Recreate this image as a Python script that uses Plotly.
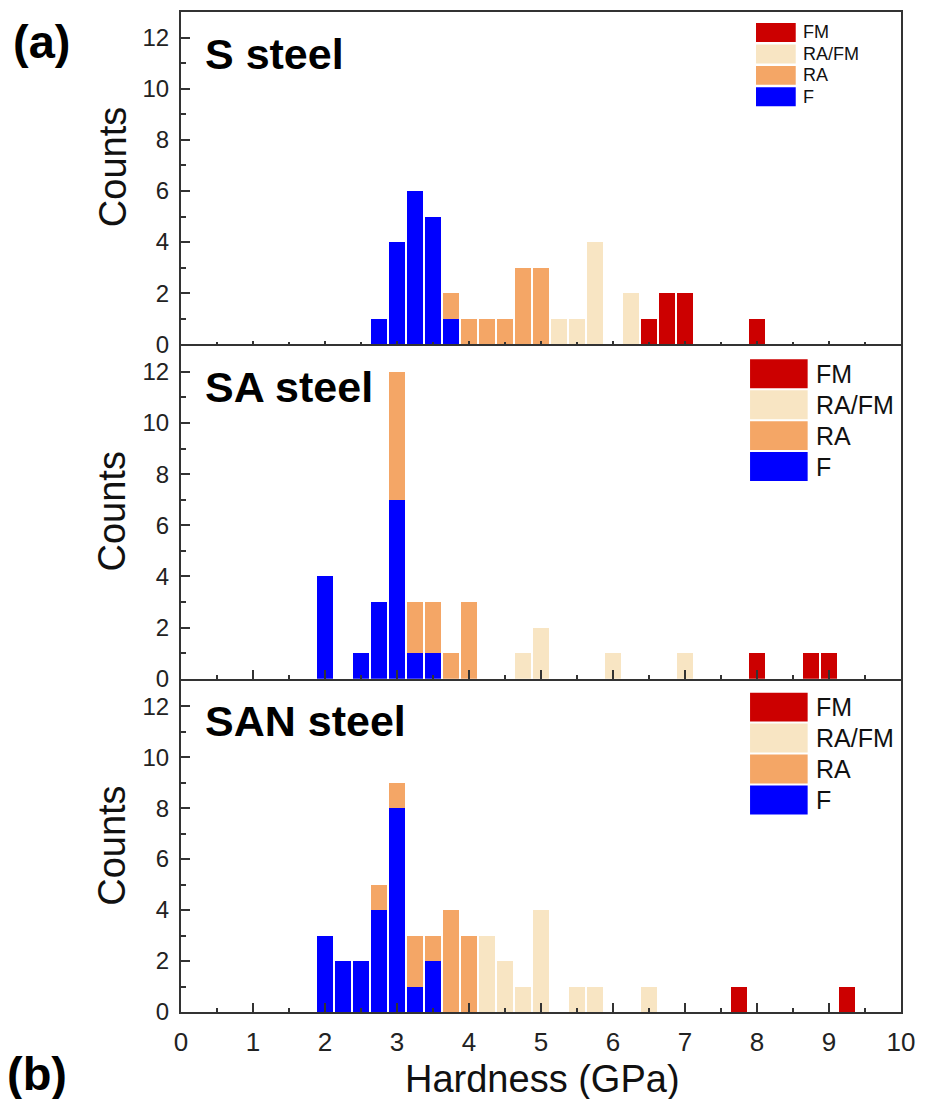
import plotly.graph_objects as go

# Phase categories (stack order, bottom to top) and their fill colours
categories = ["F", "RA", "RA/FM", "FM"]
colors = {"F": "#0000FF", "RA": "#F4A666", "RA/FM": "#F8E5C3", "FM": "#CC0000"}

# Hardness bin centres (GPa) and counts, S steel
s_f_x = [2.75, 3.0, 3.25, 3.5, 3.75]
s_f_y = [1, 4, 6, 5, 1]
s_ra_x = [3.75, 4.0, 4.25, 4.5, 4.75, 5.0]
s_ra_y = [1, 1, 1, 1, 3, 3]
s_rafm_x = [5.25, 5.5, 5.75, 6.25]
s_rafm_y = [1, 1, 4, 2]
s_fm_x = [6.5, 6.75, 7.0, 8.0]
s_fm_y = [1, 2, 2, 1]

# SA steel
sa_f_x = [2.0, 2.5, 2.75, 3.0, 3.25, 3.5]
sa_f_y = [4, 1, 3, 7, 1, 1]
sa_ra_x = [3.0, 3.25, 3.5, 3.75, 4.0]
sa_ra_y = [5, 2, 2, 1, 3]
sa_rafm_x = [4.75, 5.0, 6.0, 7.0]
sa_rafm_y = [1, 2, 1, 1]
sa_fm_x = [8.0, 8.75, 9.0]
sa_fm_y = [1, 1, 1]

# SAN steel
san_f_x = [2.0, 2.25, 2.5, 2.75, 3.0, 3.25, 3.5]
san_f_y = [3, 2, 2, 4, 8, 1, 2]
san_ra_x = [2.75, 3.0, 3.25, 3.5, 3.75, 4.0]
san_ra_y = [1, 1, 2, 1, 4, 3]
san_rafm_x = [4.25, 4.5, 4.75, 5.0, 5.5, 5.75, 6.5]
san_rafm_y = [3, 2, 1, 4, 1, 1, 1]
san_fm_x = [7.75, 9.25]
san_fm_y = [1, 1]

panel_names = ["S steel", "SA steel", "SAN steel"]
x_ticks = list(range(0, 11))
y_ticks = [0, 2, 4, 6, 8, 10, 12]

panels = [
    {"F": (s_f_x, s_f_y), "RA": (s_ra_x, s_ra_y),
     "RA/FM": (s_rafm_x, s_rafm_y), "FM": (s_fm_x, s_fm_y)},
    {"F": (sa_f_x, sa_f_y), "RA": (sa_ra_x, sa_ra_y),
     "RA/FM": (sa_rafm_x, sa_rafm_y), "FM": (sa_fm_x, sa_fm_y)},
    {"F": (san_f_x, san_f_y), "RA": (san_ra_x, san_ra_y),
     "RA/FM": (san_rafm_x, san_rafm_y), "FM": (san_fm_x, san_fm_y)},
]

FONT = "Arial, Liberation Sans, sans-serif"
AX = "#333333"

# Page geometry (pixels) used to place the paper-referenced decorations
W, H = 925, 1099
L, R, T, B = 181, 19, 10, 87
PW, PH = W - L - R, H - T - B


def px(xp):
    return (xp - L) / PW


def py(yp):
    return (H - B - yp) / PH


domains = [[669 / PH, 1.0], [334 / PH, 667 / PH], [0.0, 332 / PH]]

fig = go.Figure()
for i, data in enumerate(panels):
    xa = "x" if i == 0 else f"x{i + 1}"
    ya = "y" if i == 0 else f"y{i + 1}"
    for cat in categories:
        xs, ys = data[cat]
        fig.add_trace(go.Bar(
            x=xs, y=ys, name=cat, xaxis=xa, yaxis=ya, width=0.22,
            marker=dict(color=colors[cat], line=dict(width=0)),
            showlegend=False,
        ))

layout = dict(
    width=W, height=H, barmode="stack",
    margin=dict(l=L, r=R, t=T, b=B),
    plot_bgcolor="white", paper_bgcolor="white",
    font=dict(family=FONT, color="#222222"),
)

for i in range(3):
    sfx = "" if i == 0 else str(i + 1)
    is_bottom = i == 2
    tl = 3 if i == 0 else 9
    layout["xaxis" + sfx] = dict(
        domain=[0, 1], anchor="y" + sfx, range=[0, 10],
        tickvals=x_ticks, showticklabels=is_bottom,
        ticks="inside", ticklen=tl, tickwidth=2, tickcolor=AX,
        minor=dict(dtick=0.5, ticks="inside", ticklen=max(2, tl // 2),
                   tickwidth=2, tickcolor=AX),
        showline=True, linecolor=AX, linewidth=2, mirror=True,
        showgrid=False, zeroline=False,
        tickfont=dict(size=26, color="#222222"),
        ticklabelstandoff=6,
        matches=None if i == 0 else "x",
    )
    layout["yaxis" + sfx] = dict(
        domain=domains[i], anchor="x" + sfx, range=[0, 13],
        tickvals=y_ticks,
        ticks="inside", ticklen=9, tickwidth=2, tickcolor=AX,
        minor=dict(dtick=1, ticks="inside", ticklen=5, tickwidth=2, tickcolor=AX),
        showline=True, linecolor=AX, linewidth=2, mirror=True,
        showgrid=False, zeroline=False,
        tickfont=dict(size=24, color="#222222"),
        ticklabelstandoff=5,
    )

fig.update_layout(**layout)

annotations = []
shapes = []

# Panel names and axis titles
name_y = [52, 386, 720]
count_y = [165, 510, 845]
for i in range(3):
    annotations.append(dict(
        x=px(203), y=py(name_y[i]), xref="paper", yref="paper",
        xanchor="left", yanchor="middle", showarrow=False,
        text=f"<b>{panel_names[i]}</b>",
        font=dict(size=43, color="black", family=FONT),
    ))
    annotations.append(dict(
        x=px(112), y=py(count_y[i]), xref="paper", yref="paper",
        xanchor="center", yanchor="middle", showarrow=False,
        text="Counts", textangle=-90,
        font=dict(size=38, color="#111111", family=FONT),
    ))

annotations.append(dict(
    x=px(545), y=py(1079), xref="paper", yref="paper",
    xanchor="center", yanchor="middle", showarrow=False,
    text="Hardness (GPa)", font=dict(size=38, color="#111111", family=FONT),
))
annotations.append(dict(
    x=px(10), y=py(40), xref="paper", yref="paper",
    xanchor="left", yanchor="middle", showarrow=False,
    text="<b>(a)</b>", font=dict(size=47, color="black", family=FONT),
))
annotations.append(dict(
    x=px(4), y=py(1074), xref="paper", yref="paper",
    xanchor="left", yanchor="middle", showarrow=False,
    text="<b>(b)</b>", font=dict(size=47, color="black", family=FONT),
))

# Per-panel legends: swatch boxes with labels (FM on top, F at bottom)
legend_order = ["FM", "RA/FM", "RA", "F"]
legend_specs = [
    dict(x0=760, x1=800, top=21, h=19, pitch=21.5, tx=805, size=18),
    dict(x0=754, x1=812, top=358, h=29, pitch=31, tx=818, size=25),
    dict(x0=754, x1=812, top=692, h=29, pitch=31, tx=818, size=25),
]
for spec in legend_specs:
    for k, cat in enumerate(legend_order):
        y0 = spec["top"] + k * spec["pitch"]
        y1 = y0 + spec["h"]
        shapes.append(dict(
            type="rect", xref="paper", yref="paper",
            x0=px(spec["x0"]), x1=px(spec["x1"]), y0=py(y1), y1=py(y0),
            fillcolor=colors[cat], line=dict(width=0),
        ))
        annotations.append(dict(
            x=px(spec["tx"]), y=py((y0 + y1) / 2), xref="paper", yref="paper",
            xanchor="left", yanchor="middle", showarrow=False,
            text=cat, font=dict(size=spec["size"], color="#111111", family=FONT),
        ))

fig.update_layout(annotations=annotations, shapes=shapes)
fig.write_html("out.html")
